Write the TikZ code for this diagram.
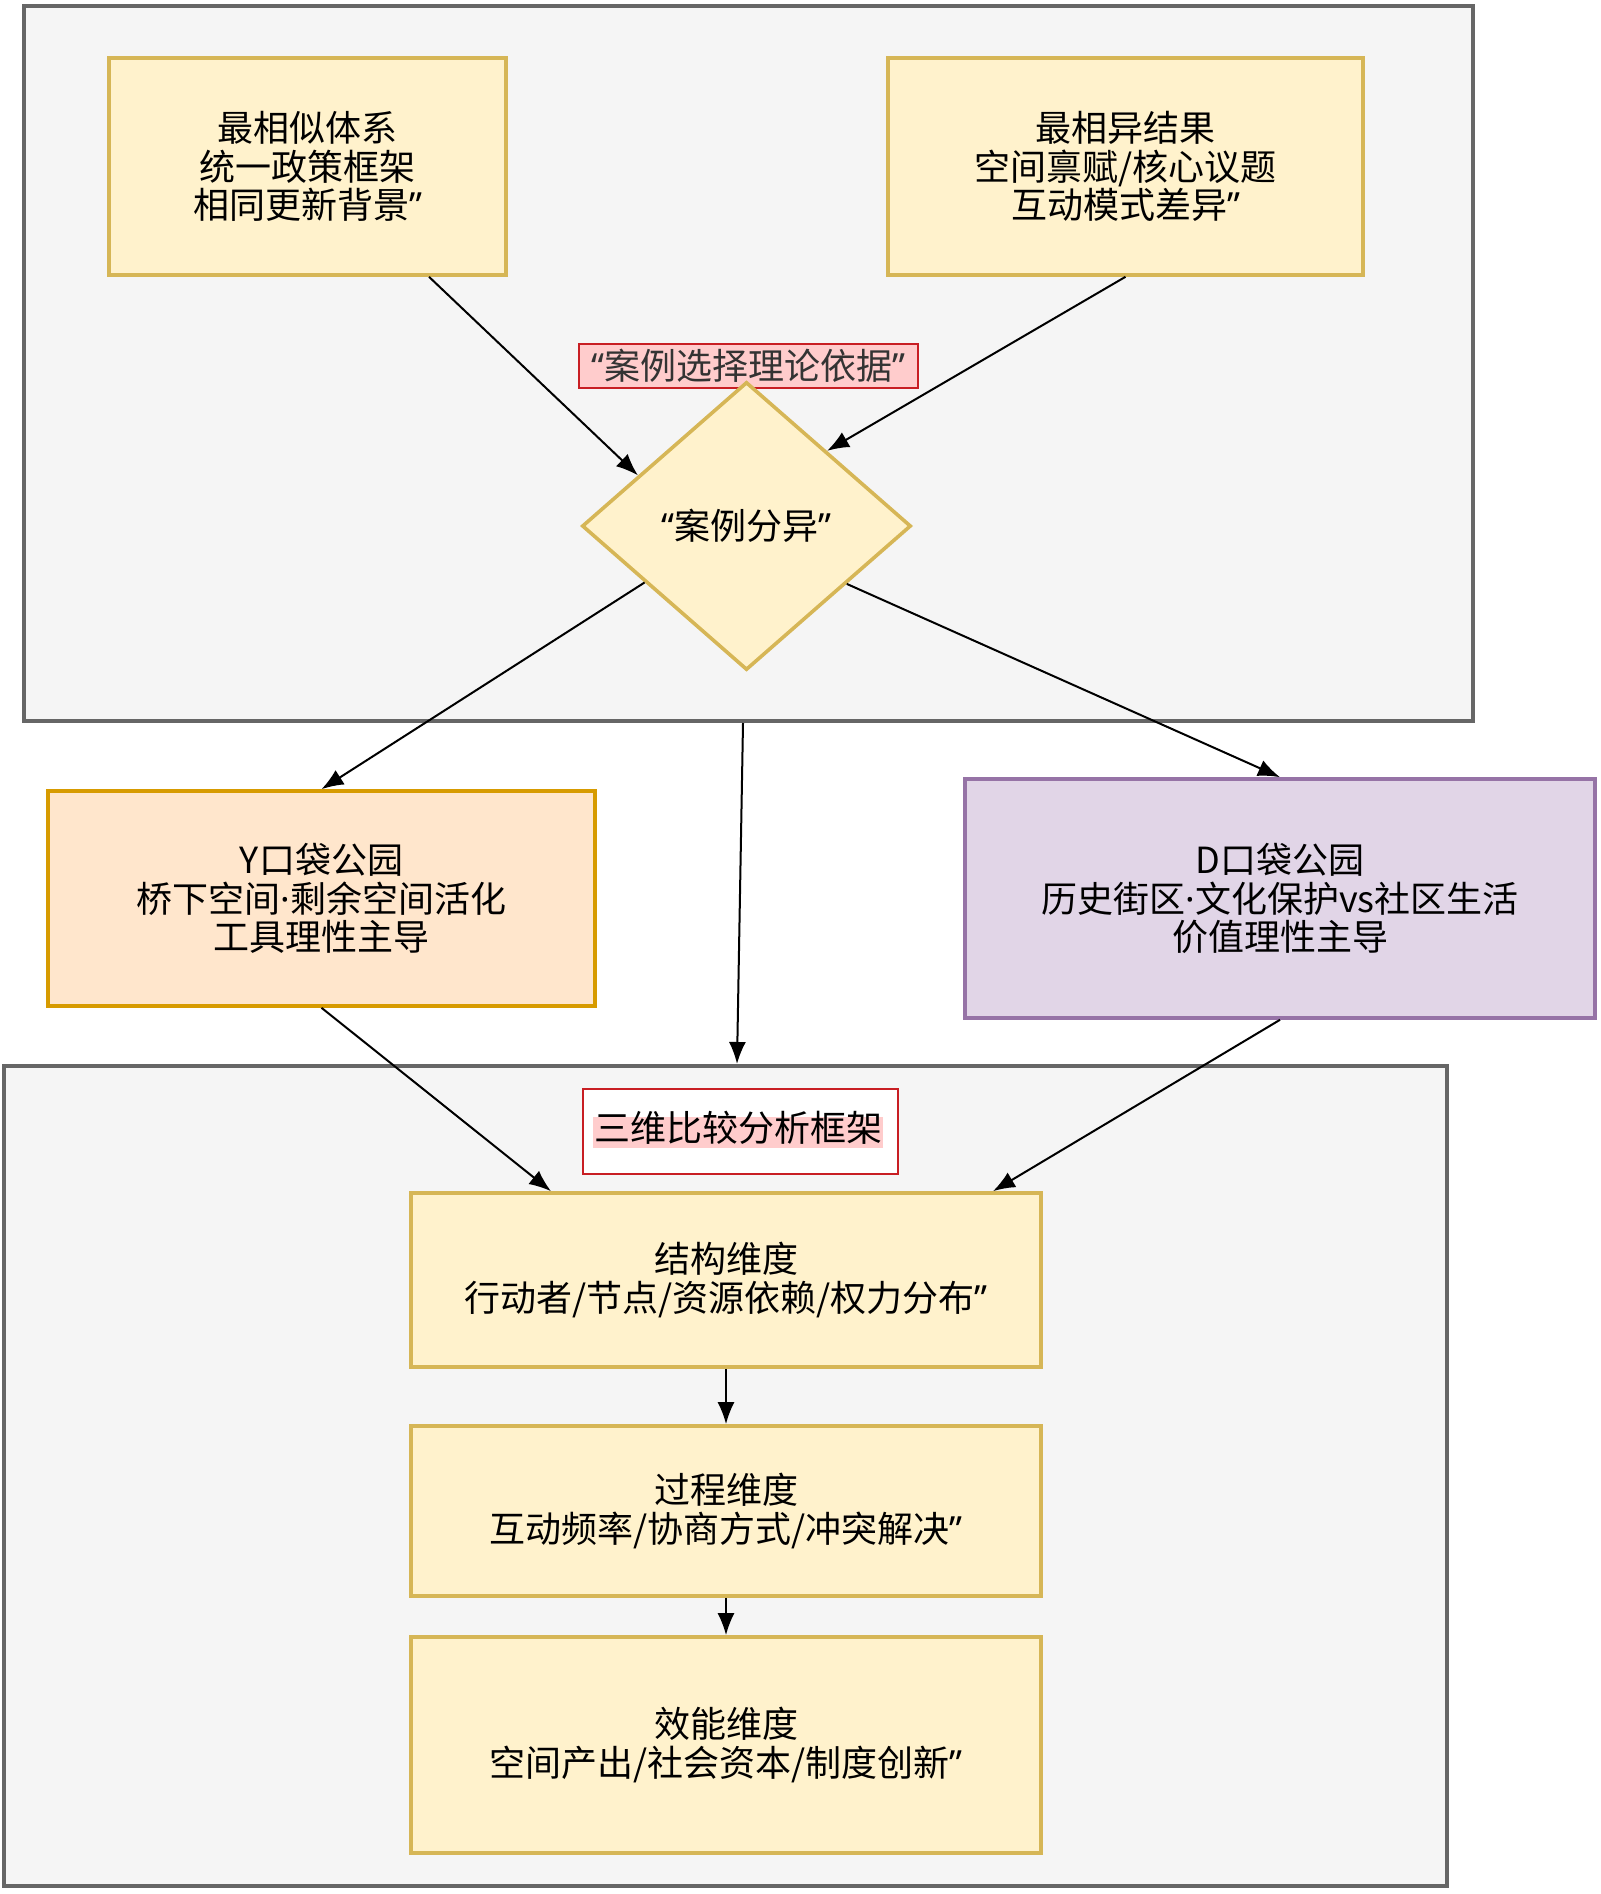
\documentclass[tikz,border=0pt]{standalone}
\usepackage{fontspec}
\setmainfont{Noto Sans CJK SC}
\newfontfamily\latina{Noto Sans}
\usetikzlibrary{shapes.geometric,arrows.meta,calc}
\definecolor{rellenoamarillo}{HTML}{FFF2CC}
\definecolor{bordeamarillo}{HTML}{D6B656}
\definecolor{rellenonaranja}{HTML}{FFE6CC}
\definecolor{bordenaranja}{HTML}{D79B00}
\definecolor{rellenolila}{HTML}{E1D5E7}
\definecolor{bordelila}{HTML}{9673A6}
\definecolor{rellenogris}{HTML}{F5F5F5}
\definecolor{bordegris}{HTML}{666666}
\definecolor{rosa}{HTML}{FFCCCC}
\definecolor{rojo}{HTML}{C81E23}
\newcommand{\abre}{{\latina “}}
\newcommand{\cierra}{{\latina ”}}
\newcommand{\punto}{{\latina ·}}
\newcommand{\caja}[5]{
	\node (#1) [caja, minimum width=#3, minimum height=#4] at (#2) {#5};
	}

\begin{document}
\begin{tikzpicture}[x=0.5pt, y=-0.5pt, >={Latex[length=11pt,width=8.5pt]},
	every node/.style={font=\fontsize{18pt}{19.3pt}\selectfont, inner sep=0pt},
	caja/.style={draw=bordeamarillo, fill=rellenoamarillo, line width=1.8pt, align=center},
	marco/.style={draw=bordegris, fill=rellenogris, line width=2pt},
	flecha/.style={->, line width=1pt}]
	\useasboundingbox (0,0) rectangle (1600,1894);
	\node (marcoA) [marco, minimum width=724.5pt, minimum height=357.5pt] at (748.5,363.5) {};
	\node (marcoB) [marco, minimum width=721.5pt, minimum height=410pt] at (725.5,1476) {};
	\caja{similar}{307.5,166.5}{198.5pt}{108.5pt}{最相似体系\\统一政策框架\\相同更新背景\cierra}
	\caja{distinto}{1125.5,166.5}{237.5pt}{108.5pt}{最相异结果\\空间禀赋/核心议题\\互动模式差异\cierra}
	\node (etqA) [draw=rojo, fill=rosa, line width=1pt, text=black!80, minimum width=169.5pt, minimum height=22pt] at (748.5,366) {\abre 案例选择理论依据\cierra};
	\node (rombo) [diamond, draw=bordeamarillo, fill=rellenoamarillo, line width=1.8pt, minimum width=164.5pt, minimum height=144pt] at (746.5,526) {\abre 案例分异\cierra};
	\node (ycaso) [caja, draw=bordenaranja, fill=rellenonaranja, minimum width=273.5pt, minimum height=107.5pt] at (321.5,898.5) {Y口袋公园\\桥下空间\punto 剩余空间活化\\工具理性主导};
	\node (dcaso) [caja, draw=bordelila, fill=rellenolila, minimum width=315pt, minimum height=119.5pt] at (1280,898.5) {D口袋公园\\历史街区\punto 文化保护vs社区生活\\价值理性主导};
	\node (etqB) [draw=rojo, fill=white, line width=1pt, minimum width=157.5pt, minimum height=42.5pt] at (740,1131.5) {};
	\node [fill=rosa, minimum width=145pt, text height=12pt, text depth=3.5pt] at (738,1132.5) {三维比较分析框架};
	\caja{estructura}{726,1280}{315pt}{87pt}{结构维度\\行动者/节点/资源依赖/权力分布\cierra}
	\caja{proceso}{726,1511}{315pt}{85pt}{过程维度\\互动频率/协商方式/冲突解决\cierra}
	\caja{efecto}{726,1745}{315pt}{108pt}{效能维度\\空间产出/社会资本/制度创新\cierra}
	\draw [flecha] ($(similar.south)+(60.75pt,0)$) -- (rombo.155);
	\draw [flecha] (distinto.south) -- (rombo.43);
	\draw [flecha] (rombo.209) -- (ycaso.north);
	\draw [flecha] (rombo.330) -- (dcaso.north);
	\draw [flecha] ($(marcoA.south)+(-2.75pt,0)$) -- ($(marcoB.north)+(5.75pt,0)$);
	\draw [flecha] (ycaso.south) -- ($(estructura.north)+(-87.5pt,0)$);
	\draw [flecha] (dcaso.south) -- ($(estructura.north)+(133.5pt,0)$);
	\draw [flecha] (estructura) -- (proceso);
	\draw [flecha] (proceso) -- (efecto);
\end{tikzpicture}
\end{document}
